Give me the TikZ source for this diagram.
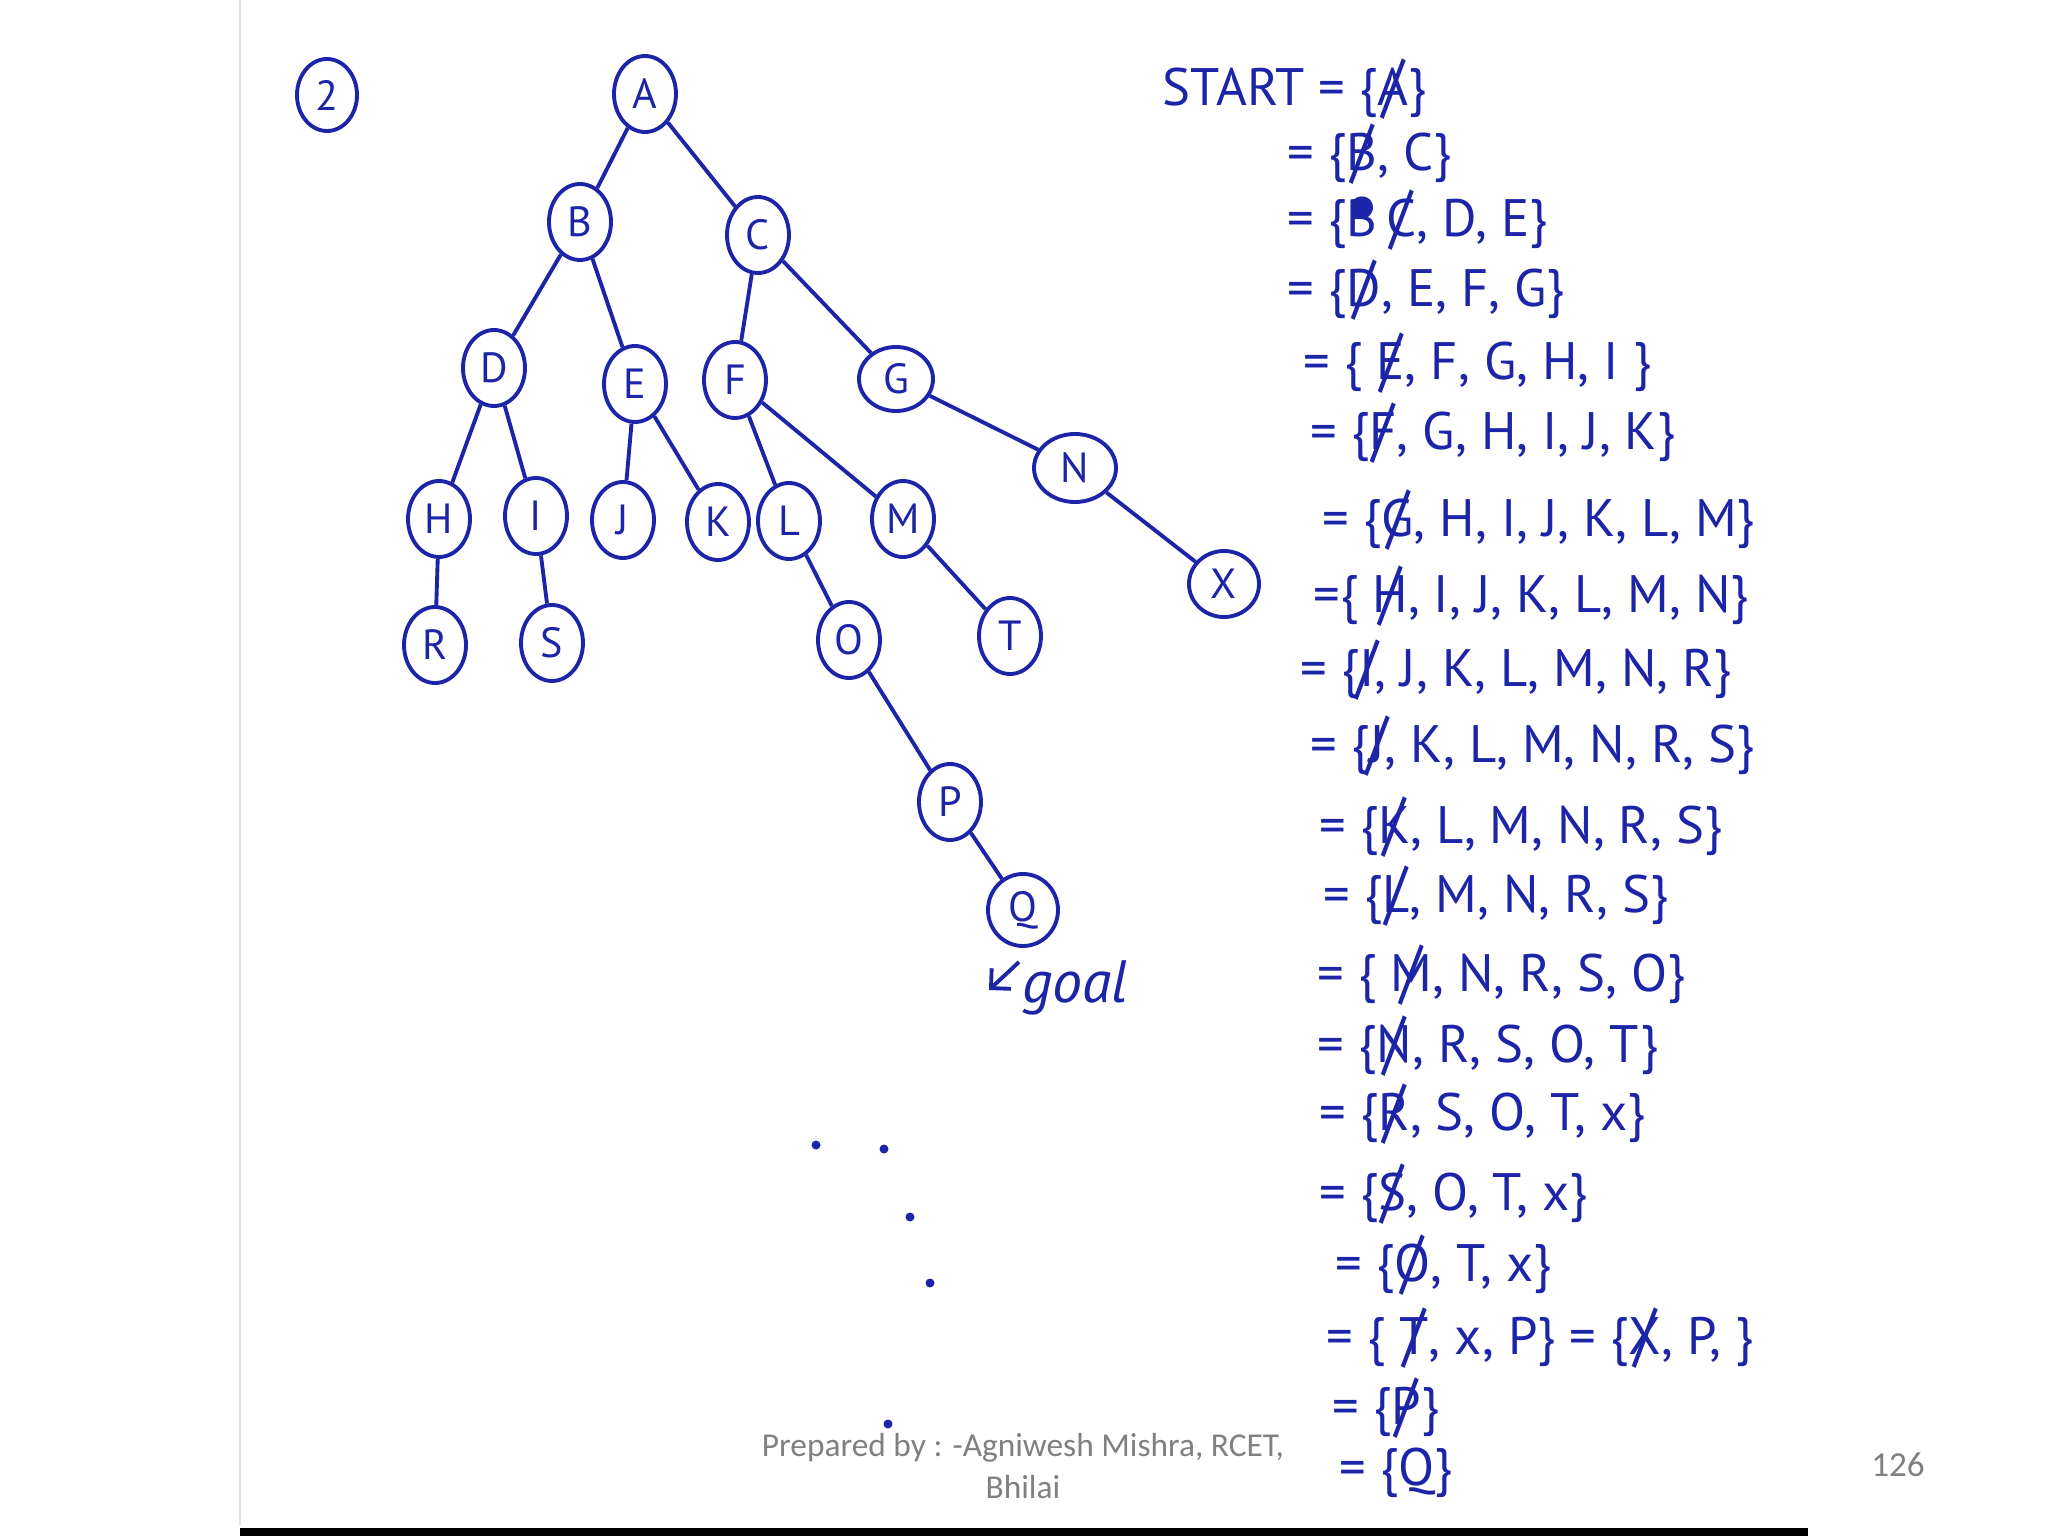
\documentclass[tikz,border=0pt]{standalone}
\usepackage{fontspec}
\usepackage{tikz}
\usetikzlibrary{calc,shapes,arrows.meta}
\usepackage{xcolor}
\newfontfamily\hand{PT Sans}
\newfontfamily\foot{Carlito}
\definecolor{ink}{RGB}{28,36,168}
\definecolor{footgray}{RGB}{128,128,128}
% crossed-out letter
\newcommand{\xo}[1]{\ooalign{#1\cr\hidewidth\raisebox{-0.15ex}{\scalebox{1.15}[1.35]{/}}\hidewidth}}
\newcommand{\blotB}{\ooalign{B\cr\hidewidth\raisebox{0.15ex}{\scalebox{1.5}{\textbullet}}\hidewidth}}

\begin{document}
\begin{tikzpicture}[
	vtx/.style={draw=ink,ellipse,line width=1.1pt,minimum width=0.62cm,minimum height=0.76cm,inner sep=0pt,text=ink,font=\hand\fontsize{12}{14}\selectfont},
	edge/.style={draw=ink,line width=1.1pt},
	setline/.style={anchor=west,inner sep=0pt,text=ink,font=\hand\fontsize{15}{17}\selectfont}]
	\useasboundingbox (0,0) rectangle (20.48,-15.36);
	\fill[white] (0,0) rectangle (20.48,-15.36);
	% edge of the scanned sheet
	\draw[black!12,line width=0.8pt] (2.40,0)--(2.40,-15.25);
	\draw[black,line width=2.4pt] (2.40,-15.32)--(18.08,-15.32);
	% problem number
	\node[vtx,minimum width=0.6cm,minimum height=0.72cm] (num) at (3.27,-0.95) {2};
	% search tree
	\foreach \n/\x/\y in {A/6.45/-0.94, B/5.80/-2.22, C/7.58/-2.35, D/4.94/-3.68,
		E/6.35/-3.84, F/7.35/-3.80, H/4.39/-5.19, I/5.36/-5.16, J/6.23/-5.20,
		K/7.18/-5.22, L/7.89/-5.21, M/9.03/-5.19, R/4.35/-6.45, S/5.52/-6.43,
		O/8.49/-6.40, T/10.10/-6.36, P/9.50/-8.02}
	\node[vtx] (\n) at (\x,\y) {\n};
	\node[vtx,minimum width=0.74cm,minimum height=0.64cm] (G) at (8.96,-3.79) {G};
	\node[vtx,minimum width=0.82cm,minimum height=0.68cm] (N) at (10.75,-4.68) {N};
	\node[vtx,minimum width=0.7cm,minimum height=0.66cm] (X) at (12.24,-5.84) {X};
	\node[vtx,minimum width=0.7cm,minimum height=0.72cm] (Q) at (10.23,-9.10) {Q};
	\foreach \a/\b in {A/B, A/C, B/D, B/E, C/F, C/G, D/H, D/I, E/J, E/K,
		F/L, F/M, G/N, N/X, H/R, I/S, L/O, M/T, O/P, P/Q}
	\draw[edge] (\a)--(\b);
	% goal marker
	\node[text=ink,anchor=west,inner sep=0pt,font=\hand\itshape\fontsize{17}{19}\selectfont] (goal) at (10.22,-9.88) {goal};
	\coordinate (g1) at (10.19,-9.62);
	\coordinate (g2) at (9.89,-9.90);
	\draw[edge,-{Straight Barb[length=4pt]}] (g1)--(g2);
	% stray dots on the sheet
	\foreach \x/\y in {8.16/-11.45, 8.84/-11.49, 9.10/-12.17, 9.30/-12.83, 8.88/-14.24}
	\fill[ink] (\x,\y) circle (0.045);
	% open list
	\node[setline] (s0) at (11.62,-0.94) {START = \{\xo{A}\}};
	\foreach \i/\x/\y/\t in {1/12.87/-1.59/{= \{\xo{B}, C\}},
		2/12.87/-2.25/{= \{\blotB\,\xo{C}, D, E\}},
		3/12.87/-2.95/{= \{\xo{D}, E, F, G\}},
		4/13.03/-3.68/{= \{ \xo{E}, F, G, H, I \}},
		5/13.10/-4.38/{= \{\xo{F}, G, H, I, J, K\}},
		6/13.22/-5.25/{= \{\xo{G}, H, I, J, K, L, M\}},
		7/13.13/-6.01/{=\{ \xo{H}, I, J, K, L, M, N\}},
		8/13.00/-6.75/{= \{\xo{I}, J, K, L, M, N, R\}},
		9/13.10/-7.51/{= \{\xo{J}, K, L, M, N, R, S\}},
		10/13.19/-8.32/{= \{\xo{K}, L, M, N, R, S\}},
		11/13.23/-9.01/{= \{\xo{L}, M, N, R, S\}},
		12/13.17/-9.80/{= \{ \xo{M}, N, R, S, O\}},
		13/13.17/-10.51/{= \{\xo{N}, R, S, O, T\}},
		14/13.19/-11.19/{= \{\xo{R}, S, O, T, x\}},
		15/13.19/-11.99/{= \{\xo{S}, O, T, x\}},
		16/13.35/-12.70/{= \{\xo{O}, T, x\}},
		17/13.26/-13.43/{= \{ \xo{T}, x, P\} = \{\xo{X}, P, \}},
		18/13.32/-14.13/{= \{\xo{P}\}},
		19/13.39/-14.73/{= \{Q\}}}
	\node[setline] (s\i) at (\x,\y) {\t};
	% slide footer
	\node[text=footgray,font=\foot\fontsize{9.5}{12}\selectfont,align=center] (prep) at (10.23,-14.66) {Prepared by : -Agniwesh Mishra, RCET,\\Bhilai};
	\node[text=footgray,font=\foot\fontsize{10}{12}\selectfont] (pg) at (18.98,-14.65) {126};
\end{tikzpicture}
\end{document}
